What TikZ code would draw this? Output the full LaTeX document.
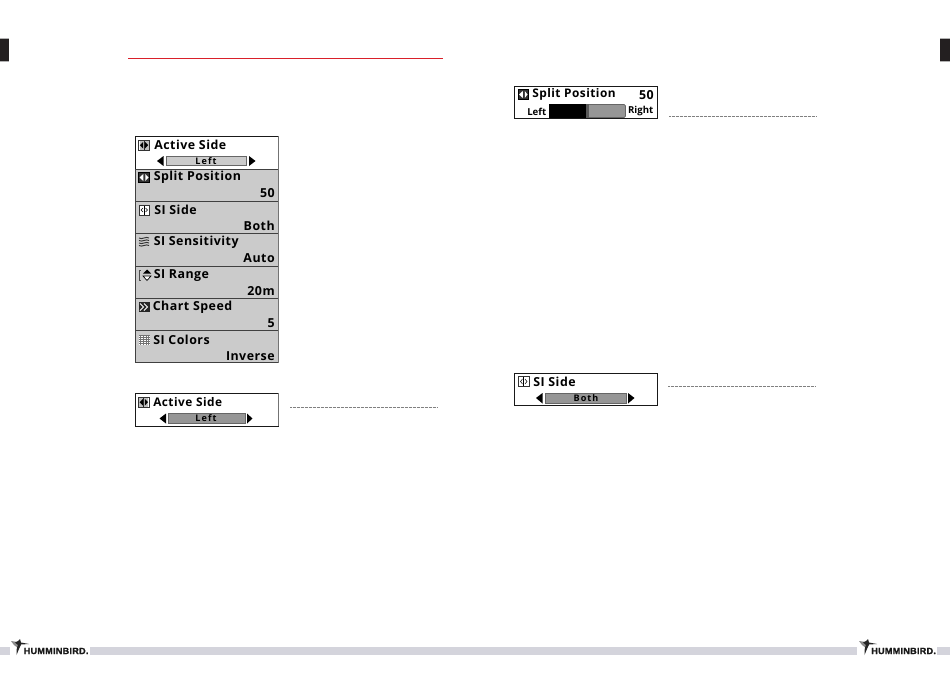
\documentclass[tikz,border=0pt]{standalone}
\usepackage{fontspec}
\setmainfont{Open Sans}
\newfontfamily\logofont[FakeBold=1.5,LetterSpace=3]{Liberation Sans Bold}
\definecolor{rowgray}{HTML}{CBCBCB}
\definecolor{slidergray}{HTML}{969696}
\definecolor{barlight}{HTML}{D4D4DC}
\definecolor{rulered}{HTML}{D9202A}
\definecolor{tabblack}{HTML}{231F20}
\newfontfamily\menufont[LetterSpace=4]{Open Sans}
\newfontfamily\smallfont[LetterSpace=12]{Open Sans}
\newfontfamily\tightfont{Open Sans}
\tikzset{
  x=0.75pt,y=-0.75pt,
  menubox/.style={draw=black!90,line width=0.7pt,fill=white},
  menurow/.style={draw=black!75,line width=0.6pt,fill=rowgray},
  title/.style={anchor=west,inner sep=0pt,font=\menufont\fontsize{9.3}{11}\selectfont\bfseries},
  lowtitle/.style={anchor=west,inner sep=0pt,font=\menufont\fontsize{8.9}{11}\selectfont\bfseries},
  value/.style={anchor=east,inner sep=0pt,font=\menufont\fontsize{9.3}{11}\selectfont\bfseries},
  small/.style={inner sep=0pt,font=\smallfont\fontsize{6.8}{8}\selectfont\bfseries},
  endlabel/.style={inner sep=0pt,font=\tightfont\fontsize{7.2}{8}\selectfont\bfseries},
  iconbox/.style={draw=black!80,line width=0.5pt,fill=white},
  darkicon/.style={draw=black,line width=0.5pt,fill=black!80},
  tri/.style={fill=black,draw=none},
  slider/.style={draw=black!60,line width=0.5pt,fill=slidergray},
  lightslider/.style={draw=black!60,line width=0.5pt,fill=rowgray},
  dotline/.style={draw=black!50,line width=0.5pt,dash pattern=on 0.5pt off 0.5pt},
  footbar/.style={fill=barlight,draw=none},
  logo/.style={inner sep=0pt,font=\logofont\fontsize{6.8}{8}\selectfont,text=black!90},
}
\newcommand{\splitglyph}[2]{% x,y top-left, 9px
  \fill[black!25] (#1+0.5,#2+0.5) rectangle (#1+9.5,#2+9);
  \fill[tri] (#1+0.8,#2+4.7) -- (#1+4,#2+1.5) -- (#1+4,#2+8) -- cycle;
  \fill[tri] (#1+9.2,#2+4.7) -- (#1+6,#2+1.5) -- (#1+6,#2+8) -- cycle;
  \fill[black!85] (#1+4.6,#2+0.5) rectangle (#1+5.4,#2+9);
}
\newcommand{\bird}[2]{% hummingbird mark
  \fill[black!45] (#1,#2+2) -- (#1+7,#2+3) -- (#1+10,#2+6) -- (#1+7,#2+9) -- (#1+3,#2+6) -- cycle;
  \fill[black!85] (#1+4,#2+3.5) -- (#1+7,#2+2) -- (#1+9,#2) -- (#1+10,#2+3.5) -- (#1+18,#2+5)
     -- (#1+10,#2+5.5) -- (#1+8,#2+10) -- (#1+5.5,#2+16) -- (#1+5.8,#2+9) -- (#1+7,#2+6) -- cycle;
}
\begin{document}
\begin{tikzpicture}
\useasboundingbox[fill=white] (0,0) rectangle (950,674);
% page tabs
\fill[black!30] (0,38) rectangle (9,62);
\fill[tabblack] (0,39) rectangle (9,61);
\fill[black!30] (940,38) rectangle (950,62);
\fill[tabblack] (940,39) rectangle (950,61);
% red rule
\coordinate (ruleA) at (128,58.5);
\coordinate (ruleB) at (443,58.5);
\draw[rulered,line width=0.9pt] (ruleA) -- (ruleB);

% ---------- big menu
\draw[menubox] (135,136) rectangle (278,362);
\foreach \a/\b in {169/201,201/233.5,233.5/266,266/298,298/330.5,330.5/362}
  \draw[menurow] (135,\a) rectangle (278,\b);
\draw[black!55,line width=1pt] (278.3,136) -- (278.3,362.5);

\draw[iconbox] (138.5,140) rectangle (149.5,150);\splitglyph{139}{140.5}
\node[title] (t1) at (154,144.5) {Active Side};
\fill[tri] (157,161) -- (163.5,156) -- (163.5,166) -- cycle;
\fill[tri] (255.5,161) -- (249,156) -- (249,166) -- cycle;
\draw[lightslider] (166,156.5) rectangle (246,165.5);
\node[small] (v1) at (206,161) {Left};

\draw[darkicon] (138.5,172.5) rectangle (149.5,182.5);
\fill[white] (139.5,177.5) -- (143.3,174) -- (143.3,181) -- cycle;
\fill[white] (148.5,177.5) -- (145.3,174) -- (145.3,181) -- cycle;
\node[title] (t2) at (153.5,177.7) {Split Position};
\node[value] (v2) at (275,193.5) {50};

\draw[iconbox] (139,205) rectangle (149.5,215);
\draw[black,line width=0.4pt] (144.2,205.5) -- (144.2,214.5);
\draw[black,line width=0.4pt] (143,208) -- (141,210) -- (143,212) (145.5,208) -- (147.5,210) -- (145.5,212);
\node[title] (t3) at (154,210) {SI Side};
\node[value] (v3) at (275,226) {Both};

\foreach \d in {0,2.5,5,7.5}
  \draw[black!80,line width=0.7pt] (139,238+\d) .. controls (142,240+\d) and (146,236+\d) .. (149,238+\d);
\node[title] (t4) at (153.5,242.7) {SI Sensitivity};
\node[value] (v4) at (275,258.5) {Auto};

\draw[black!70,line width=0.5pt] (141,270) -- (139,270) -- (139,280.5) -- (141,280.5);
\fill[tri] (147,269.5) -- (151,273.5) -- (143,273.5) -- cycle;
\draw[black,line width=0.5pt,fill=white] (147,280.5) -- (151,276) -- (143,276) -- cycle;
\node[title] (t5) at (153.5,275.2) {SI Range};
\node[value] (v5) at (275,291) {20m};

\fill[black!85] (139,302) rectangle (149.5,312);
\draw[white,line width=0.7pt] (140,303.5) -- (143.5,307) -- (140,310.5) (144,303.5) -- (147.5,307) -- (144,310.5);
\node[title] (t6) at (152.5,307.7) {Chart Speed};
\node[value] (v6) at (275,323.5) {5};

\fill[black!55] (139,334.5) rectangle (149.5,344.5);
\draw[white,line width=0.4pt,dash pattern=on 0.6pt off 0.6pt]
  (139,336) -- (149.5,336) (139,338) -- (149.5,338) (139,340) -- (149.5,340) (139,342) -- (149.5,342) (139,344) -- (149.5,344);
\node[title] (t7) at (153,339.7) {SI Colors};
\node[value] (v7) at (275,356) {Inverse};

% ---------- Active Side box
\draw[menubox] (135,393) rectangle (278,426);
\draw[black!55,line width=1pt] (278.3,393) -- (278.3,426);
\draw[iconbox] (138.5,397) rectangle (149,407);
\splitglyph{138.8}{397.5}
\node[lowtitle] (t8) at (153,402.5) {Active Side};
\fill[tri] (159.5,418.5) -- (166,413.5) -- (166,423.5) -- cycle;
\fill[tri] (252.5,418.5) -- (247,413.5) -- (247,423.5) -- cycle;
\draw[slider] (168,413.5) rectangle (245,423.5);
\node[small] (v8) at (206,418.5) {Left};
\coordinate (d1a) at (290,407);
\coordinate (d1b) at (438,407);
\draw[dotline] (d1a) -- (d1b);

% ---------- Split Position box
\draw[menubox] (514.5,86) rectangle (657,118);
\draw[darkicon] (518,89.5) rectangle (528.5,99.5);
\fill[white] (519,94.5) -- (522.8,91) -- (522.8,98) -- cycle;
\fill[white] (527.5,94.5) -- (524.8,91) -- (524.8,98) -- cycle;
\node[lowtitle] (t9) at (532,94.7) {Split Position};
\node[value] (v9) at (654,94.7) {50};
\node[endlabel,anchor=west] (l9) at (527,111.5) {Left};
\node[endlabel,anchor=east] (r9) at (653.5,111.5) {Right};
\fill[black] (549,104.5) rectangle (587,118);
\draw[slider,rounded corners=1pt] (587,104.5) rectangle (625.5,117.5);
\fill[black!65] (586,104) rectangle (588.5,118);
\coordinate (d2a) at (669,116);
\coordinate (d2b) at (816,116);
\draw[dotline] (d2a) -- (d2b);

% ---------- SI Side box
\draw[menubox] (514.5,373) rectangle (657,405.5);
\draw[iconbox] (518.5,376) rectangle (529,386.5);
\draw[black,line width=0.4pt] (523.7,376.5) -- (523.7,386);
\draw[black,line width=0.4pt] (522.5,379) -- (520.5,381.5) -- (522.5,384) (525,379) -- (527,381.5) -- (525,384);
\node[title] (t10) at (533,381.5) {SI Side};
\fill[tri] (536,398) -- (542.5,393) -- (542.5,403.5) -- cycle;
\fill[tri] (634.5,398) -- (628,393) -- (628,403.5) -- cycle;
\draw[slider] (545,393) rectangle (626,403.5);
\node[small] (v10) at (586,398) {Both};
\coordinate (d3a) at (668,386);
\coordinate (d3b) at (816,386);
\draw[dotline] (d3a) -- (d3b);

% ---------- footer
\fill[footbar] (0,647) rectangle (10,655);
\fill[footbar] (90,647) rectangle (857,655);
\fill[footbar] (937,647) rectangle (950,655);
\bird{11}{639}
\node[logo,anchor=west] (logoL) at (23.5,651) {HUMMINBIRD.};
\bird{859}{639}
\node[logo,anchor=west] (logoR) at (871,651) {HUMMINBIRD.};
\end{tikzpicture}
\end{document}
